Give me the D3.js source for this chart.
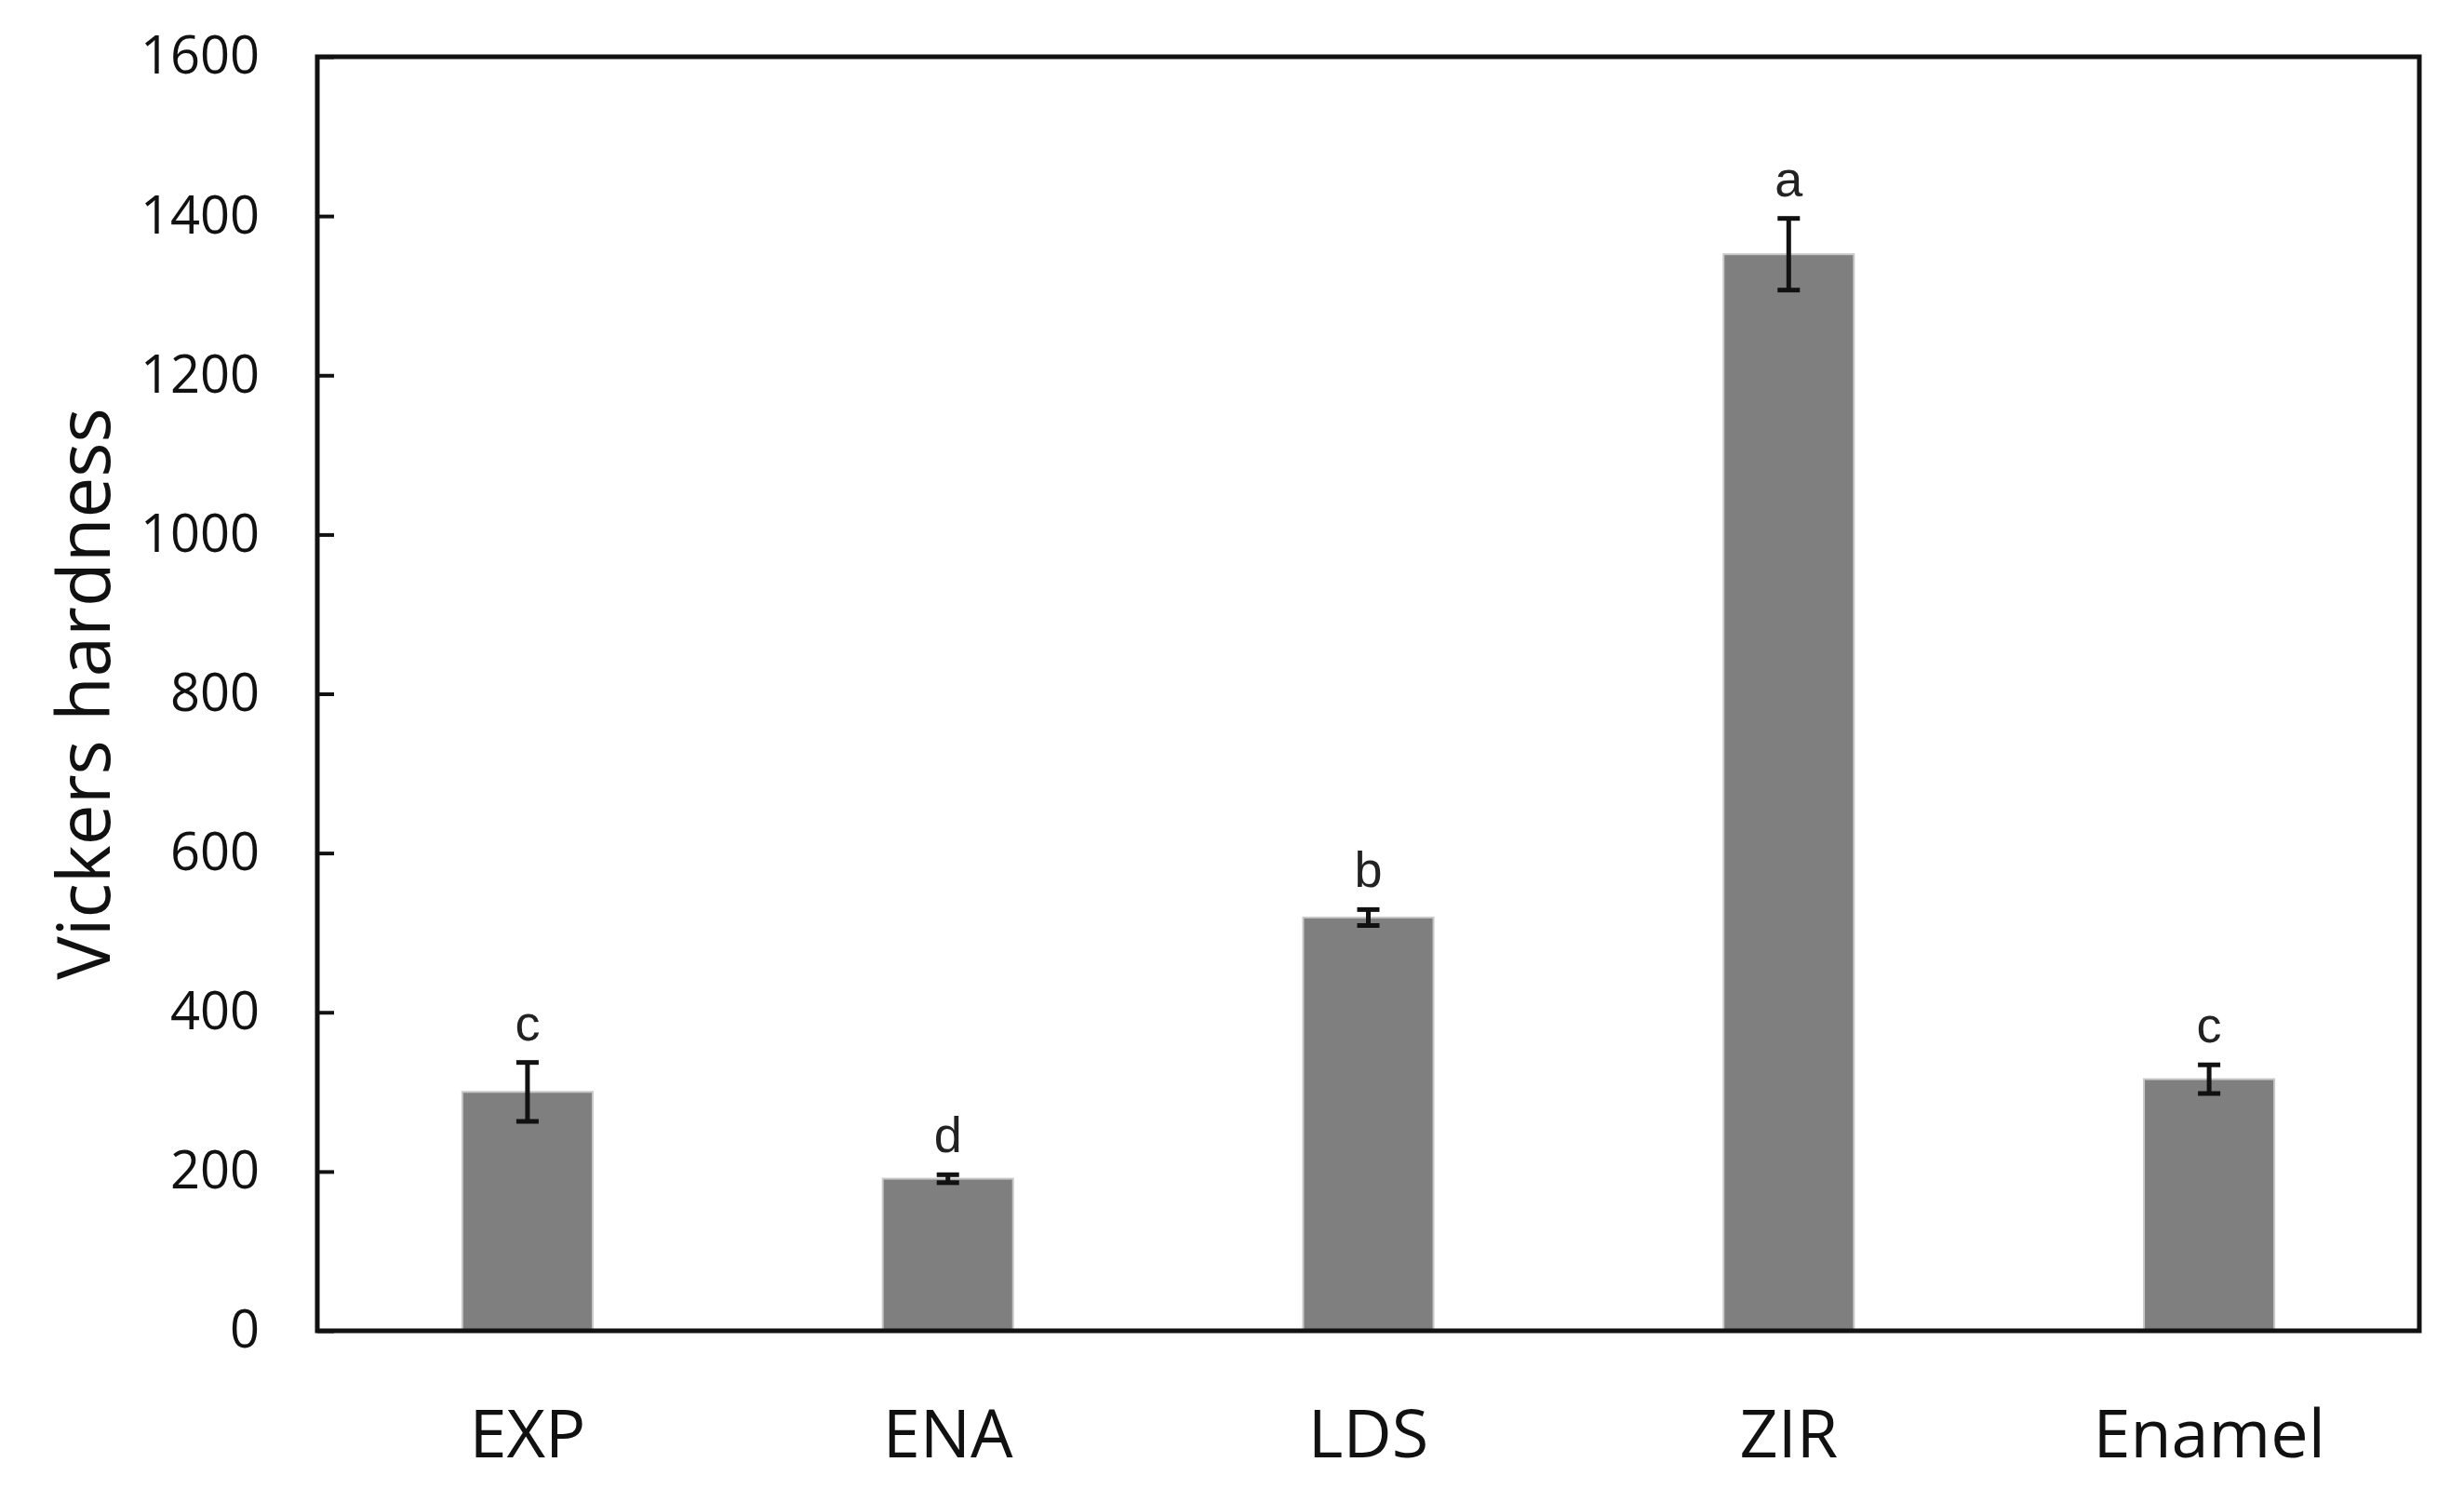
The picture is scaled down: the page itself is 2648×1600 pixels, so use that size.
<!DOCTYPE html>
<html>
<head>
<meta charset="utf-8">
<script src="https://cdn.jsdelivr.net/npm/d3@7"></script>
<style>
  html, body { margin: 0; padding: 0; background: #ffffff; }
  svg { display: block; }
</style>
</head>
<body>
<svg id="chart" width="2648" height="1600"></svg>
<script>
// ---- data ----
const categories = ["EXP", "ENA", "LDS", "ZIR", "Enamel"];
const hardness   = [300, 191, 519, 1352, 316];
const errors     = [37, 5, 10, 45, 18];
const groupLetters = ["c", "d", "b", "a", "c"];
const yTicks = [0, 200, 400, 600, 800, 1000, 1200, 1400, 1600];
const yTitle = "Vickers hardness";

// ---- layout ----
const W = 2648, H = 1600;
const margin = { left: 341, right: 48, top: 61, bottom: 170 };
const innerW = W - margin.left - margin.right;
const innerH = H - margin.top - margin.bottom;

const svg = d3.select("#chart");
const g = svg.append("g").attr("transform", `translate(${margin.left},${margin.top})`);

const x = d3.scaleBand().domain(categories).range([0, innerW]).paddingInner(0.69).paddingOuter(0.345);
const y = d3.scaleLinear().domain([0, 1600]).range([innerH, 0]);

const data = categories.map((c, i) => ({ c, v: hardness[i], e: errors[i], l: groupLetters[i] }));

// bars
g.selectAll("rect.bar").data(data).enter().append("rect")
  .attr("class", "bar")
  .attr("x", d => x(d.c))
  .attr("y", d => y(d.v))
  .attr("width", x.bandwidth())
  .attr("height", d => y(0) - y(d.v))
  .attr("fill", "#7f7f7f")
  .attr("stroke", "#c8c8c8")
  .attr("stroke-width", 2);

// error bars
const cap = 12;
const eb = g.selectAll("g.err").data(data).enter().append("g").attr("class", "err")
  .attr("stroke", "#111").attr("stroke-width", 5);
eb.append("line")
  .attr("x1", d => x(d.c) + x.bandwidth() / 2).attr("x2", d => x(d.c) + x.bandwidth() / 2)
  .attr("y1", d => y(d.v + d.e)).attr("y2", d => y(d.v - d.e));
eb.append("line")
  .attr("x1", d => x(d.c) + x.bandwidth() / 2 - cap).attr("x2", d => x(d.c) + x.bandwidth() / 2 + cap)
  .attr("y1", d => y(d.v + d.e)).attr("y2", d => y(d.v + d.e));
eb.append("line")
  .attr("x1", d => x(d.c) + x.bandwidth() / 2 - cap).attr("x2", d => x(d.c) + x.bandwidth() / 2 + cap)
  .attr("y1", d => y(d.v - d.e)).attr("y2", d => y(d.v - d.e));

// group letters
g.selectAll("text.letter").data(data).enter().append("text")
  .attr("class", "letter")
  .attr("x", d => x(d.c) + x.bandwidth() / 2)
  .attr("y", d => y(d.v + d.e) - 24)
  .attr("text-anchor", "middle")
  .attr("font-family", "'Liberation Sans', Arial, sans-serif")
  .attr("font-size", 54)
  .attr("fill", "#222")
  .text(d => d.l);

// y axis (ticks inward)
const yAxis = g.append("g")
  .call(d3.axisLeft(y).tickValues(yTicks).tickSize(-18).tickPadding(62).tickFormat(d3.format("d")));
yAxis.select(".domain").remove();
yAxis.selectAll(".tick line").attr("stroke", "#111").attr("stroke-width", 4);
yAxis.selectAll(".tick text")
  .attr("font-family", "'Open Sans', sans-serif")
  .attr("font-size", 56)
  .attr("fill", "#111");

// x axis labels
const xAxis = g.append("g").attr("transform", `translate(0,${innerH})`)
  .call(d3.axisBottom(x).tickSize(0).tickPadding(85));
xAxis.select(".domain").remove();
xAxis.selectAll(".tick text")
  .attr("font-family", "'Open Sans', sans-serif")
  .attr("font-size", 72)
  .attr("fill", "#111");

// frame
g.append("rect")
  .attr("x", 0).attr("y", 0).attr("width", innerW).attr("height", innerH)
  .attr("fill", "none").attr("stroke", "#111").attr("stroke-width", 5);

// y title
svg.append("text")
  .attr("transform", `translate(88,${margin.top + innerH / 2 + 0}) rotate(-90)`)
  .attr("text-anchor", "middle")
  .attr("dominant-baseline", "central")
  .attr("font-family", "'Open Sans', sans-serif")
  .attr("font-size", 78)
  .attr("fill", "#111")
  .text(yTitle);
</script>
</body>
</html>
